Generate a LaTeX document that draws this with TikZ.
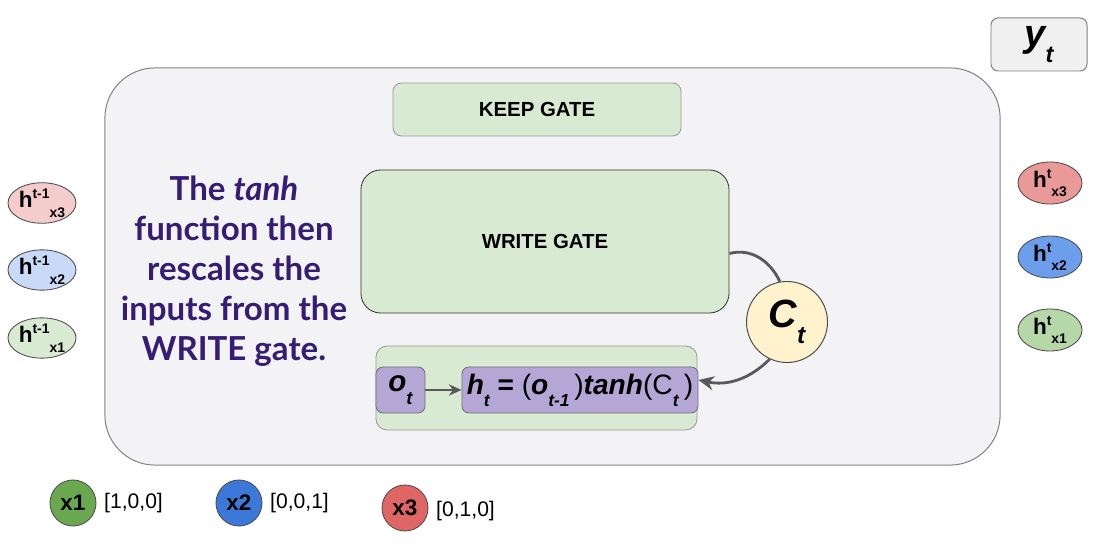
\documentclass[tikz,border=0pt]{standalone}
\usepackage{fontspec}
\setmainfont{Liberation Sans}
\newfontfamily\latofont{Lato}
\usepackage{graphicx}
\usepackage{tikz}
\usetikzlibrary{positioning}
\usetikzlibrary{shapes.geometric}
\usetikzlibrary{arrows.meta}
\usepackage{xcolor}

\definecolor{cellbg}{HTML}{F3F3F6}
\definecolor{gategreen}{HTML}{D9EAD3}
\definecolor{outpurple}{HTML}{B4A7D6}
\definecolor{cellyellow}{HTML}{FFF2CC}
\definecolor{textpurple}{HTML}{351C75}
\definecolor{linegray}{HTML}{595959}
\definecolor{pinkA}{HTML}{F4CCCC}
\definecolor{blueA}{HTML}{C9DAF8}
\definecolor{greenA}{HTML}{D9EAD3}
\definecolor{pinkB}{HTML}{EA9999}
\definecolor{blueB}{HTML}{6D9EEB}
\definecolor{greenB}{HTML}{B6D7A8}
\definecolor{legendgreen}{HTML}{6AA84F}
\definecolor{legendblue}{HTML}{3C78D8}
\definecolor{legendred}{HTML}{E06666}

% lowered subscript and raised superscript
\newcommand{\dn}[1]{\raisebox{-0.42em}{\scalebox{0.62}{#1}}}
\newcommand{\up}[1]{\raisebox{0.42em}{\scalebox{0.62}{#1}}}

\begin{document}
\begin{tikzpicture}[x=0.025cm, y=-0.025cm,
    gatebox/.style={draw=gray!80, fill=gategreen, rounded corners=6pt, line width=0.6pt, inner sep=0pt},
    outbox/.style={draw=gray!90!black, fill=outpurple, rounded corners=5pt, line width=0.6pt, inner sep=0pt, minimum height=1.15cm},
    hidden/.style={ellipse, draw=gray!60!black, line width=0.6pt, inner sep=0pt, font=\fontsize{16}{16}\selectfont\bfseries},
    legend/.style={circle, draw=gray!60!black, line width=0.6pt, inner sep=0pt, minimum size=1.15cm, font=\fontsize{16}{16}\selectfont\bfseries},
    flow/.style={linegray, line width=2pt}
]
    \useasboundingbox (0,0) rectangle (1100,550);

    % Cell body
    \node[draw=gray, fill=cellbg, rounded corners=1.25cm, line width=0.7pt,
          minimum width=22.375cm, minimum height=9.925cm] (cell) at (552.5,266.5) {};

    % Output
    \node[draw=gray, fill=gray!12, rounded corners=5pt, line width=0.7pt,
          minimum width=2.4cm, minimum height=1.325cm,
          font=\fontsize{27}{27}\selectfont\bfseries\itshape] (yt) at (1039,44.5) {y\dn{t}};

    % Gates
    \node[gatebox, minimum width=7.2cm, minimum height=1.325cm,
          font=\fontsize{14.5}{14.5}\selectfont\bfseries] (keep) at (537,109.5) {KEEP GATE};
    \node[gatebox, draw=black!80, rounded corners=14pt, minimum width=9.2cm, minimum height=3.575cm,
          font=\fontsize{14.5}{14.5}\selectfont\bfseries] (write) at (545,241.5) {WRITE GATE};

    % Cell state
    \node[circle, draw=gray!60!black, fill=cellyellow, line width=0.7pt, minimum size=2.025cm, inner sep=0pt,
          font=\fontsize{28}{28}\selectfont\bfseries\itshape] (ct) at (787,322) {C\dn{t}};

    % Output block
    \node[gatebox, rounded corners=8pt, minimum width=8.025cm, minimum height=2.1cm] (outblock) at (536.5,388) {};
    \node[outbox, minimum width=1.225cm, font=\fontsize{21}{21}\selectfont\bfseries\itshape] (ot) at (400.5,390) {o\dn{t}};
    \node[outbox, minimum width=5.9cm, font=\fontsize{20}{20}\selectfont\bfseries] (ht) at (580,390)
        {\textit{h\dn{t}} = \mdseries(\textbf{\textit{o\dn{t-1}}}\,)\textbf{\textit{tanh}}(C\dn{\textbf{\textit{t}}}\,)};

    % Connectors
    \draw[flow, -{Stealth[length=9pt,width=8pt]}] (ot) -- (ht);
    \draw[flow] ([yshift=-0.3cm]write.east) to[out=15,in=115] (ct.100);
    \draw[flow, -{Stealth[length=11pt,width=10pt]}] (ct.245) to[out=-135,in=-12] ([yshift=0.25cm]ht.east);

    % Explanation
    \node[text=textpurple, align=center, font=\latofont\fontsize{23.5}{28.5}\selectfont\bfseries] (note) at (234,271)
        {The \textit{tanh}\\function then\\rescales the\\inputs from the\\WRITE gate.};

    % Previous hidden states
    \node[hidden, fill=pinkA, minimum width=1.7cm, minimum height=1.0cm] (hp3) at (42,203) {h\up{t-1}\dn{x3}};
    \node[hidden, fill=blueA, minimum width=1.7cm, minimum height=1.0cm] (hp2) at (42,270) {h\up{t-1}\dn{x2}};
    \node[hidden, fill=greenA, minimum width=1.7cm, minimum height=1.0cm] (hp1) at (42,338) {h\up{t-1}\dn{x1}};

    % Current hidden states
    \node[hidden, fill=pinkB, minimum width=1.6cm, minimum height=1.05cm] (hc3) at (1050,183) {h\up{t}\dn{x3}};
    \node[hidden, fill=blueB, minimum width=1.6cm, minimum height=1.05cm] (hc2) at (1050,257) {h\up{t}\dn{x2}};
    \node[hidden, fill=greenB, minimum width=1.6cm, minimum height=1.05cm] (hc1) at (1050,330) {h\up{t}\dn{x1}};

    % Legend
    \node[legend, fill=legendgreen] (x1) at (73,503) {x1};
    \node[legend, fill=legendblue] (x2) at (239,503) {x2};
    \node[legend, fill=legendred] (x3) at (405,508) {x3};
    \node[right=2pt of x1, font=\fontsize{15}{15}\selectfont] (v1) {[1,0,0]};
    \node[right=2pt of x2, font=\fontsize{15}{15}\selectfont] (v2) {[0,0,1]};
    \node[right=2pt of x3, font=\fontsize{15}{15}\selectfont, yshift=-2pt] (v3) {[0,1,0]};
\end{tikzpicture}
\end{document}
